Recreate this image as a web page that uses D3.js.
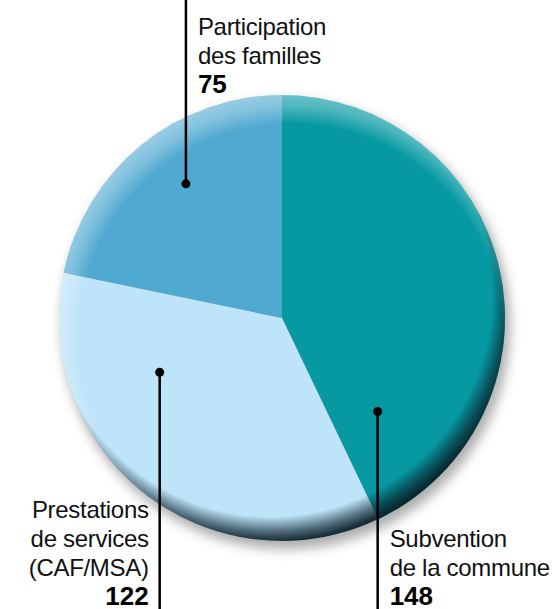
<!DOCTYPE html>
<html>
<head>
<meta charset="utf-8">
<script src="https://cdn.jsdelivr.net/npm/d3@7"></script>
<style>
  body { margin: 0; background: #fff; }
  svg { display: block; }
  .lbl { font-family: "Liberation Sans", Arial, sans-serif; font-size: 24px; fill: #111; }
  .num { font-family: "Liberation Sans Narrow", "Liberation Sans", sans-serif; font-weight: bold; font-size: 26px; fill: #000; }
</style>
</head>
<body>
<script>
// data
const categories = ["Subvention de la commune", "Prestations de services (CAF/MSA)", "Participation des familles"];
const values = [148, 122, 75];
const colors = ["#0699a2", "#bde4f8", "#50a9d0"];
const labelLines = [["Subvention", "de la commune"], ["Prestations", "de services", "(CAF/MSA)"], ["Participation", "des familles"]];

const W = 554, H = 609;
const cx = 282, cy = 318, R = 223;

let svg = d3.select("body").append("svg")
    .attr("width", W)
    .attr("height", H);

let defs = svg.append("defs");

// drop shadow
let f = defs.append("filter").attr("id", "shadow")
    .attr("x", "-20%").attr("y", "-20%").attr("width", "140%").attr("height", "140%");
f.append("feGaussianBlur").attr("stdDeviation", 6);

// dark rim (bottom right)
let dark = defs.append("radialGradient").attr("id", "darkRim")
    .attr("cx", 0.475).attr("cy", 0.45).attr("r", 0.55);
dark.append("stop").attr("offset", 0.9).attr("stop-color", "#0a1e28").attr("stop-opacity", 0);
dark.append("stop").attr("offset", 0.96).attr("stop-color", "#0a1e28").attr("stop-opacity", 0.6);
dark.append("stop").attr("offset", 1).attr("stop-color", "#0a1e28").attr("stop-opacity", 0.92);

// light rim (top left)
let light = defs.append("radialGradient").attr("id", "lightRim")
    .attr("cx", 0.52).attr("cy", 0.54).attr("r", 0.54);
light.append("stop").attr("offset", 0.88).attr("stop-color", "#fff").attr("stop-opacity", 0);
light.append("stop").attr("offset", 0.95).attr("stop-color", "#fff").attr("stop-opacity", 0.28);
light.append("stop").attr("offset", 1).attr("stop-color", "#fff").attr("stop-opacity", 0.4);

let g = svg.append("g").attr("transform", `translate(${cx},${cy})`);

g.append("circle")
    .attr("cx", 4).attr("cy", 7).attr("r", R + 1)
    .attr("fill", "#808080")
    .attr("opacity", 0.65)
    .attr("filter", "url(#shadow)");

let pie = d3.pie().sort(null).startAngle(0).endAngle(2 * Math.PI);
let arc = d3.arc().innerRadius(0).outerRadius(R);
let arcs = pie(values);

g.selectAll(".slice")
    .data(arcs)
    .enter()
    .append("path")
    .attr("class", "slice")
    .attr("d", arc)
    .attr("fill", (d, i) => colors[i]);

g.append("circle").attr("r", R).attr("fill", "url(#darkRim)");
g.append("circle").attr("r", R).attr("fill", "url(#lightRim)");

// leader anchors: where along the slice (0..1 of its angle) and how far out (of R)
let anchorT = [0.87, 0.72, 0.545];
let anchorR = [0.6, 0.6, 0.74];
let dirs = [1, 1, -1];       // line goes down, down, up
let textSide = [1, -1, 1];   // text right or left of the line

arcs.forEach((d, i) => {
    let a = d.startAngle + (d.endAngle - d.startAngle) * anchorT[i];
    let x = cx + Math.sin(a) * R * anchorR[i];
    let y = cy - Math.cos(a) * R * anchorR[i];
    svg.append("line")
        .attr("x1", x).attr("y1", y)
        .attr("x2", x).attr("y2", dirs[i] > 0 ? H : 0)
        .attr("stroke", "#000").attr("stroke-width", 2.5);
    svg.append("circle").attr("cx", x).attr("cy", y).attr("r", 4.5).attr("fill", "#000");

    let lines = labelLines[i];
    let tx = textSide[i] > 0 ? x + 12 : x - 11;
    let anchor = textSide[i] > 0 ? "start" : "end";
    let lh = 29;
    let lastBase = i === 2 ? 93 : 605;
    let firstBase = lastBase - lh * lines.length;
    let t = svg.append("g").attr("text-anchor", anchor);
    lines.forEach((s, k) => {
        t.append("text").attr("class", "lbl")
            .attr("x", tx).attr("y", firstBase + k * lh)
            .attr("letter-spacing", "-0.3")
            .text(s);
    });
    t.append("text").attr("class", "num")
        .attr("x", tx).attr("y", lastBase)
        .text(values[i]);
});
</script>
</body>
</html>
